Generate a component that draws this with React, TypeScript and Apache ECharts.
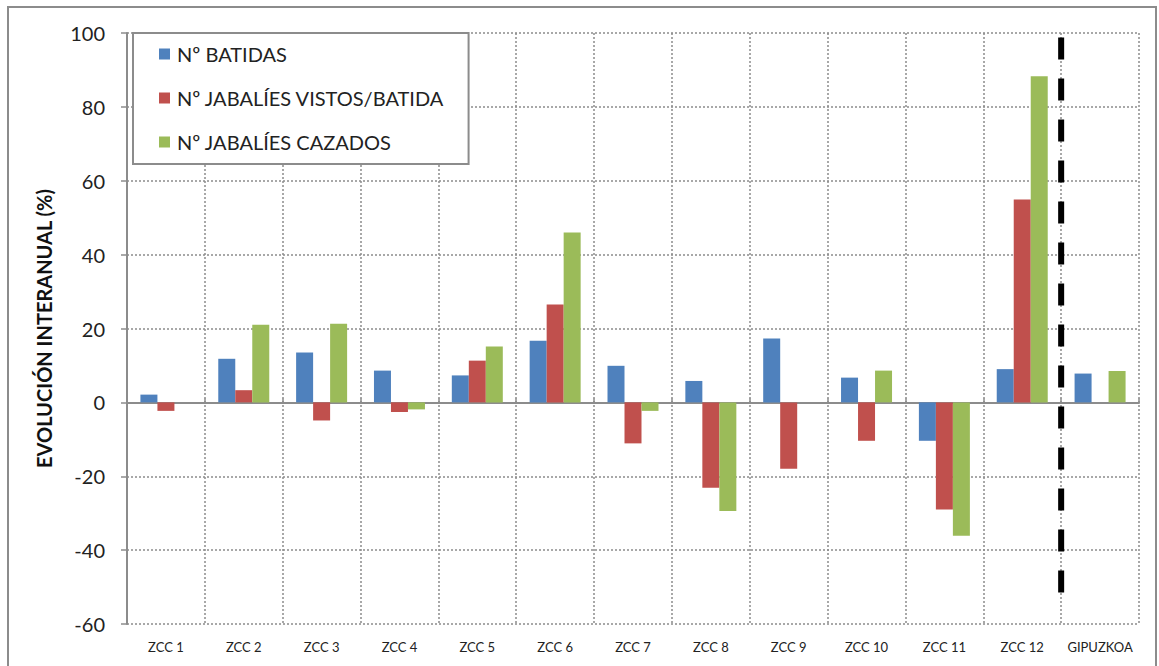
import React, { useEffect, useRef } from "react";
import * as echarts from "echarts";

const categories = ["ZCC 1", "ZCC 2", "ZCC 3", "ZCC 4", "ZCC 5", "ZCC 6", "ZCC 7", "ZCC 8", "ZCC 9", "ZCC 10", "ZCC 11", "ZCC 12", "GIPUZKOA"];
const batidas = [2.1, 11.8, 13.5, 8.6, 7.3, 16.7, 9.9, 5.8, 17.3, 6.7, -10.4, 9.0, 7.8];
const vistos = [-2.3, 3.3, -4.9, -2.6, 11.3, 26.5, -11.1, -23.1, -18.0, -10.4, -29.0, 54.9, 0];
const cazados = [0, 21.0, 21.3, -1.9, 15.1, 46.0, -2.3, -29.4, 0, 8.6, -36.1, 88.3, 8.5];
const yTicks = { min: -60, max: 100, interval: 20 };
const separatorAt = 12; // boundary between ZCC 12 and GIPUZKOA
const separatorRange = [98.8, -55];

const FONT = "Lato, 'Open Sans', sans-serif";

export default function App() {
  const ref = useRef<HTMLDivElement>(null);
  useEffect(() => {
    if (!ref.current) return;
    const chart = echarts.init(ref.current, undefined, { renderer: "svg" });
    const barBase = { type: "bar", barWidth: 17, barGap: "0%", xAxisIndex: 0, yAxisIndex: 0 };
    chart.setOption({
      animation: false,
      backgroundColor: "#fff",
      textStyle: { fontFamily: FONT },
      graphic: [
        {
          type: "rect",
          shape: { x: 8, y: 7, width: 1148, height: 700 },
          style: { fill: "none", stroke: "#8c8c8c", lineWidth: 2 },
          silent: true,
          z: -1,
        },
      ],
      grid: { left: 127, right: 20, top: 33, bottom: 42 },
      legend: {
        orient: "vertical",
        left: 133,
        top: 33,
        padding: [11, 24, 12, 26],
        itemGap: 24,
        itemWidth: 11,
        itemHeight: 11,
        icon: "rect",
        borderColor: "#8c8c8c",
        borderWidth: 2,
        backgroundColor: "#fff",
        textStyle: { fontSize: 20, color: "#222", fontFamily: FONT, padding: [0, 0, 0, 2] },
        data: ["Nº BATIDAS", "Nº JABALÍES VISTOS/BATIDA", "Nº JABALÍES CAZADOS"],
        z: 10,
      },
      xAxis: [
        {
          type: "category",
          data: categories,
          position: "bottom",
          axisLine: { show: false, onZero: false },
          axisTick: { show: false },
          axisLabel: { fontSize: 13, color: "#222", margin: 16, fontFamily: FONT, interval: 0 },
          splitLine: { show: true, interval: 0, lineStyle: { color: "#8c8c8c", type: [2, 2], width: 1.5 } },
        },
        {
          type: "category",
          data: categories,
          axisLine: { show: true, onZero: true, lineStyle: { color: "#8c8c8c", width: 2 } },
          axisTick: { show: true, interval: 0, length: 4, inside: false, lineStyle: { color: "#8c8c8c", width: 1.5 } },
          axisLabel: { show: false },
          splitLine: { show: false },
        },
        {
          type: "value",
          min: 0,
          max: categories.length,
          show: false,
        },
      ],
      yAxis: {
        type: "value",
        min: yTicks.min,
        max: yTicks.max,
        interval: yTicks.interval,
        name: "EVOLUCIÓN INTERANUAL (%)",
        nameLocation: "middle",
        nameGap: 73,
        nameTextStyle: { fontSize: 20, fontWeight: "bold", color: "#111", fontFamily: FONT },
        axisLine: { show: true, lineStyle: { color: "#8c8c8c", width: 2 } },
        axisTick: { show: true, length: 6, lineStyle: { color: "#8c8c8c", width: 1.5 } },
        axisLabel: { fontSize: 20, color: "#222", margin: 22, fontFamily: FONT },
        splitLine: { show: true, lineStyle: { color: "#8c8c8c", type: [2, 2], width: 1.5 } },
      },
      series: [
        { ...barBase, name: "Nº BATIDAS", data: batidas, itemStyle: { color: "#4F81BD" } },
        { ...barBase, name: "Nº JABALÍES VISTOS/BATIDA", data: vistos, itemStyle: { color: "#C0504D" } },
        { ...barBase, name: "Nº JABALÍES CAZADOS", data: cazados, itemStyle: { color: "#9BBB59" } },
        {
          type: "line",
          xAxisIndex: 2,
          yAxisIndex: 0,
          data: [
            [separatorAt, separatorRange[0]],
            [separatorAt, separatorRange[1]],
          ],
          symbol: "none",
          silent: true,
          lineStyle: { color: "#000", width: 6, type: [22, 19] },
          z: 5,
        },
      ],
    });
    return () => chart.dispose();
  }, []);
  return <div ref={ref} style={{ position: "absolute", left: 0, top: 0, width: 1159, height: 666 }} />;
}
